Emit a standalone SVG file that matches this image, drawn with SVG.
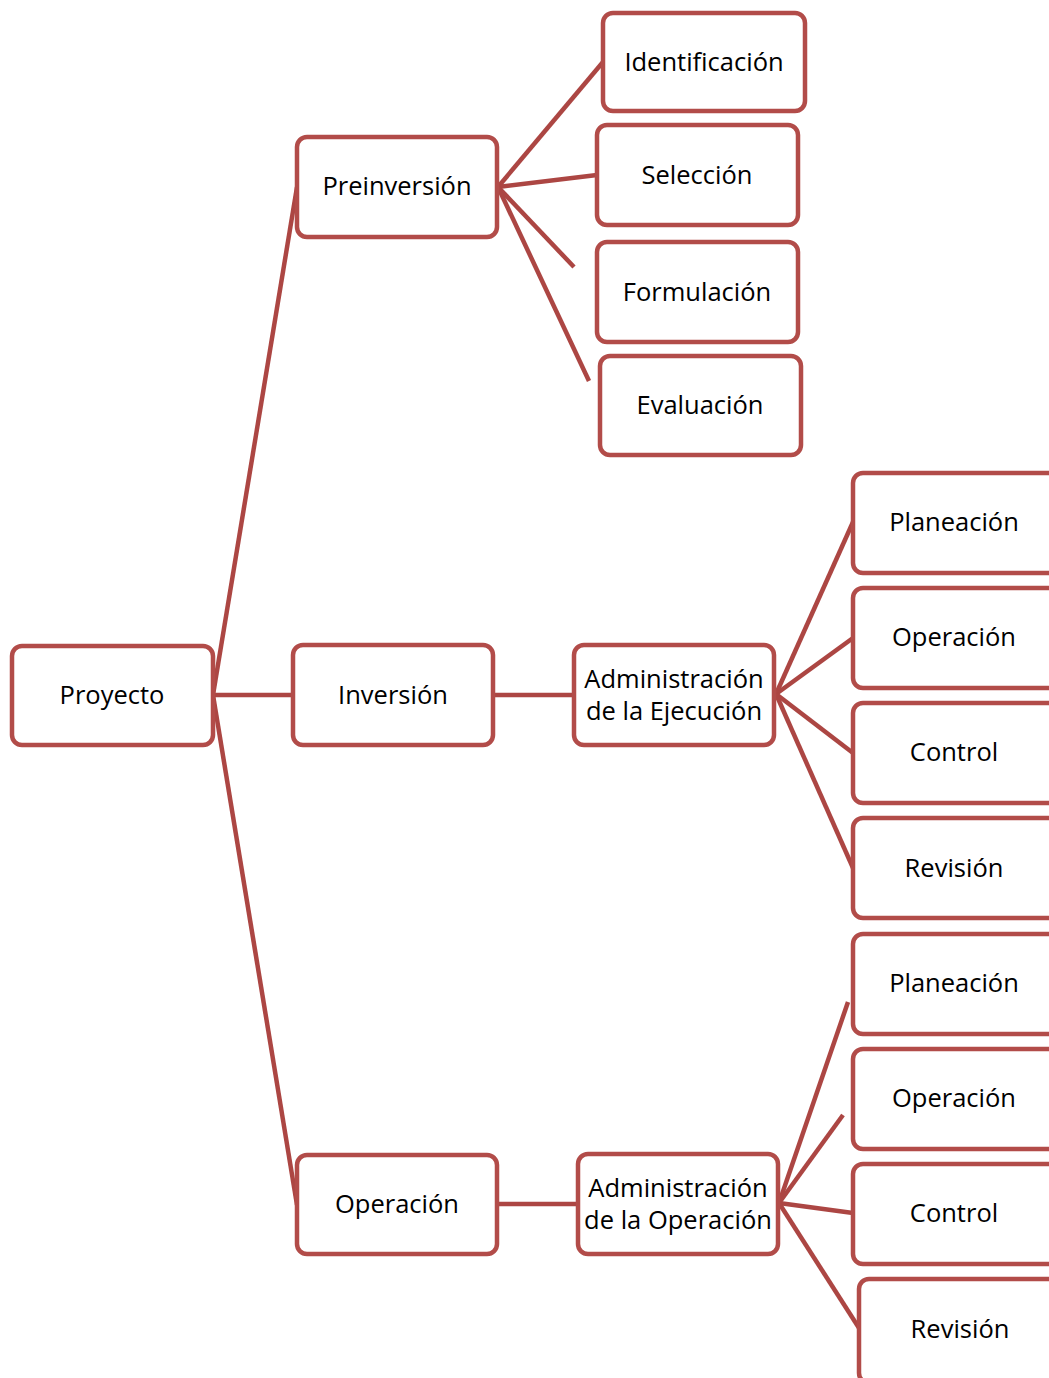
<svg xmlns="http://www.w3.org/2000/svg" width="1049" height="1378" viewBox="0 0 1049 1378">
  <style>
    .box { fill: #ffffff; stroke: #b24c49; stroke-width: 4.5; }
    .lbl { font-family: "Open Sans", "Noto Sans", "DejaVu Sans", sans-serif; font-size: 25.5px; fill: #000000; text-anchor: middle; }
    .link { stroke: #ac4643; stroke-width: 4.5; fill: none; stroke-linecap: butt; }
  </style>
  <rect x="0" y="0" width="1049" height="1378" fill="#ffffff"/>

  <!-- connectors -->
  <g id="connectors">
    <line class="link" x1="213" y1="695" x2="297" y2="187"/>
    <line class="link" x1="213" y1="695" x2="293" y2="695"/>
    <line class="link" x1="213" y1="695" x2="297" y2="1205"/>

    <line class="link" x1="498" y1="187" x2="603" y2="62"/>
    <line class="link" x1="498" y1="187" x2="597" y2="175"/>
    <line class="link" x1="498" y1="187" x2="574" y2="267"/>
    <line class="link" x1="498" y1="187" x2="589" y2="381"/>

    <line class="link" x1="493" y1="695" x2="574" y2="695"/>
    <line class="link" x1="776" y1="694" x2="853" y2="522"/>
    <line class="link" x1="776" y1="694" x2="853" y2="638"/>
    <line class="link" x1="776" y1="694" x2="853" y2="753"/>
    <line class="link" x1="776" y1="694" x2="853" y2="868"/>

    <line class="link" x1="497" y1="1204" x2="578" y2="1204"/>
    <line class="link" x1="779" y1="1203" x2="848" y2="1002"/>
    <line class="link" x1="779" y1="1203" x2="843" y2="1115"/>
    <line class="link" x1="779" y1="1203" x2="853" y2="1213"/>
    <line class="link" x1="779" y1="1203" x2="859" y2="1328"/>
  </g>

  <!-- root -->
  <g id="proyecto">
    <rect class="box" x="12" y="646" width="201" height="99" rx="10"/>
    <text class="lbl" x="112" y="704">Proyecto</text>
  </g>

  <!-- phases -->
  <g id="preinversion">
    <rect class="box" x="297" y="137" width="200" height="100" rx="10"/>
    <text class="lbl" x="397" y="195">Preinversión</text>
  </g>
  <g id="inversion">
    <rect class="box" x="293" y="645" width="200" height="100" rx="10"/>
    <text class="lbl" x="393" y="704">Inversión</text>
  </g>
  <g id="operacion">
    <rect class="box" x="297" y="1155" width="200" height="99" rx="10"/>
    <text class="lbl" x="397" y="1213">Operación</text>
  </g>

  <!-- pre-investment stages -->
  <g id="identificacion">
    <rect class="box" x="603" y="13" width="202" height="98" rx="10"/>
    <text class="lbl" x="704" y="71">Identificación</text>
  </g>
  <g id="seleccion">
    <rect class="box" x="597" y="125" width="201" height="100" rx="10"/>
    <text class="lbl" x="697" y="184">Selección</text>
  </g>
  <g id="formulacion">
    <rect class="box" x="597" y="242" width="201" height="100" rx="10"/>
    <text class="lbl" x="697" y="301">Formulación</text>
  </g>
  <g id="evaluacion">
    <rect class="box" x="600" y="356" width="201" height="99" rx="10"/>
    <text class="lbl" x="700" y="414">Evaluación</text>
  </g>

  <!-- execution management -->
  <g id="adm-ejecucion">
    <rect class="box" x="574" y="645" width="200" height="100" rx="10"/>
    <text class="lbl" x="674" y="688">Administración</text>
    <text class="lbl" x="674" y="720">de la Ejecución</text>
  </g>
  <g id="ejec-planeacion">
    <rect class="box" x="853" y="473" width="205" height="100" rx="10"/>
    <text class="lbl" x="954" y="531">Planeación</text>
  </g>
  <g id="ejec-operacion">
    <rect class="box" x="853" y="588" width="205" height="100" rx="10"/>
    <text class="lbl" x="954" y="646">Operación</text>
  </g>
  <g id="ejec-control">
    <rect class="box" x="853" y="703" width="205" height="100" rx="10"/>
    <text class="lbl" x="954" y="761">Control</text>
  </g>
  <g id="ejec-revision">
    <rect class="box" x="853" y="818" width="205" height="100" rx="10"/>
    <text class="lbl" x="954" y="877">Revisión</text>
  </g>

  <!-- operation management -->
  <g id="adm-operacion">
    <rect class="box" x="578" y="1154" width="200" height="100" rx="10"/>
    <text class="lbl" x="678" y="1197">Administración</text>
    <text class="lbl" x="678" y="1229">de la Operación</text>
  </g>
  <g id="op-planeacion">
    <rect class="box" x="853" y="934" width="205" height="100" rx="10"/>
    <text class="lbl" x="954" y="992">Planeación</text>
  </g>
  <g id="op-operacion">
    <rect class="box" x="853" y="1049" width="205" height="100" rx="10"/>
    <text class="lbl" x="954" y="1107">Operación</text>
  </g>
  <g id="op-control">
    <rect class="box" x="853" y="1164" width="205" height="100" rx="10"/>
    <text class="lbl" x="954" y="1222">Control</text>
  </g>
  <g id="op-revision">
    <rect class="box" x="859" y="1279" width="205" height="104" rx="10"/>
    <text class="lbl" x="960" y="1338">Revisión</text>
  </g>
</svg>
